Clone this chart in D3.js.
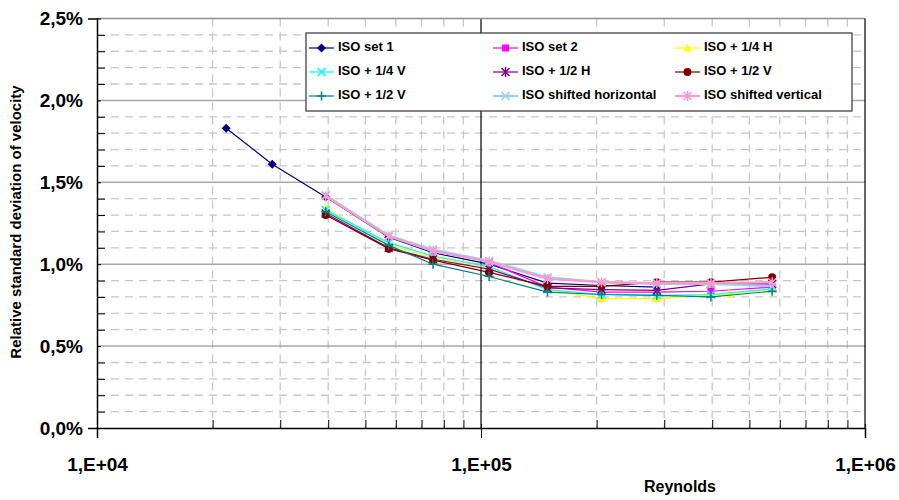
<!DOCTYPE html>
<html>
<head>
<meta charset="utf-8">
<script src="https://cdn.jsdelivr.net/npm/d3@7"></script>
<style>
  body { margin: 0; background: #fff; }
  text { font-family: "Liberation Sans", Arial, sans-serif; font-weight: bold; }
</style>
</head>
<body>
<div id="chart"></div>
<script>
// data (Reynolds, % rel. std. deviation)
var reSet1 = [21700, 28600, 39400, 57500, 75000, 105000, 149000, 206000, 287000];
var valSet1 = [1.83, 1.61, 1.41, 1.165, 1.07, 1.00, 0.885, 0.87, 0.86];

var reSet2 = [105000, 149000, 206000, 287000, 397000, 573000];
var valSet2 = [1.01, 0.86, 0.83, 0.83, 0.835, 0.86];

var reMain = [39400, 57500, 75000, 105000, 149000, 206000, 287000, 397000, 573000];
var reQuarterH = [39400, 57500, 75000, 105000, 149000, 206000, 287000, 443000, 573000];
var valQuarterH = [1.34, 1.12, 1.04, 0.98, 0.845, 0.79, 0.79, 0.82, 0.845];
var valQuarterV = [1.33, 1.13, 1.05, 0.985, 0.845, 0.815, 0.81, 0.815, 0.85];
var valHalfH = [1.31, 1.10, 1.03, 0.97, 0.855, 0.845, 0.84, 0.88, 0.88];
var valHalfV = [1.30, 1.095, 1.025, 0.95, 0.865, 0.865, 0.89, 0.89, 0.92];
var valHalfV2 = [1.32, 1.115, 1.00, 0.925, 0.83, 0.815, 0.81, 0.80, 0.835];
var valShiftH = [1.42, 1.175, 1.09, 1.02, 0.92, 0.89, 0.88, 0.88, 0.865];
var valShiftV = [1.415, 1.17, 1.08, 1.015, 0.91, 0.89, 0.885, 0.885, 0.89];

var yTicks = [0, 0.5, 1.0, 1.5, 2.0, 2.5];
var xTicks = [1e4, 1e5, 1e6];
var xTickLabels = ["1,E+04", "1,E+05", "1,E+06"];

var series = [
  {name: "ISO set 1", re: reSet1, v: valSet1, color: "#000080", mk: "diamond", w: 1.2},
  {name: "ISO set 2", re: reSet2, v: valSet2, color: "#ff00ff", mk: "square", w: 1.2},
  {name: "ISO + 1/4 H", re: reQuarterH, v: valQuarterH, color: "#ffff00", mk: "triangle", w: 1.2},
  {name: "ISO + 1/4 V", re: reMain, v: valQuarterV, color: "#00ffff", mk: "x", w: 1.2},
  {name: "ISO + 1/2 H", re: reMain, v: valHalfH, color: "#800080", mk: "star", w: 1.2},
  {name: "ISO + 1/2 V", re: reMain, v: valHalfV, color: "#800000", mk: "circle", w: 1.2},
  {name: "ISO + 1/2 V", re: reMain, v: valHalfV2, color: "#008080", mk: "plus", w: 1.2},
  {name: "ISO shifted horizontal", re: reMain, v: valShiftH, color: "#99ccff", mk: "x", w: 2.2},
  {name: "ISO shifted vertical", re: reMain, v: valShiftV, color: "#ff99cc", mk: "star", w: 2.2}
];

var W = 899, H = 500;
var plotL = 97, plotR = 865, plotT = 18.5, plotB = 428;

var svg = d3.select("#chart").append("svg")
  .attr("width", W).attr("height", H);

var x = d3.scaleLog().domain([1e4, 1e6]).range([plotL, plotR]);
var y = d3.scaleLinear().domain([0, 2.5]).range([plotB, plotT]);

// grid
var g = svg.append("g");
var minorY = d3.range(1, 25).filter(function(i){ return i % 5 != 0; }).map(function(i){ return i / 10; });
g.selectAll(".hminor").data(minorY).enter().append("line")
  .attr("x1", plotL).attr("x2", plotR)
  .attr("y1", function(d){ return y(d); }).attr("y2", function(d){ return y(d); })
  .attr("stroke", "#c8c8c8").attr("stroke-width", 1.3)
  .attr("stroke-dasharray", "8,6");

var minorX = [];
[1e4, 1e5].forEach(function(dec){
  for (var k = 2; k <= 9; k++) minorX.push(k * dec);
});
g.selectAll(".vminor").data(minorX).enter().append("line")
  .attr("y1", plotT).attr("y2", plotB)
  .attr("x1", function(d){ return x(d); }).attr("x2", function(d){ return x(d); })
  .attr("stroke", "#c8c8c8").attr("stroke-width", 1.3)
  .attr("stroke-dasharray", "8,6");

g.selectAll(".hmajor").data([0.5, 1.0, 1.5, 2.0]).enter().append("line")
  .attr("x1", plotL).attr("x2", plotR)
  .attr("y1", function(d){ return y(d); }).attr("y2", function(d){ return y(d); })
  .attr("stroke", "#a8a8a8").attr("stroke-width", 1.5);

g.append("line")
  .attr("x1", x(1e5)).attr("x2", x(1e5)).attr("y1", plotT).attr("y2", plotB)
  .attr("stroke", "#000").attr("stroke-width", 1.2);

// plot border
svg.append("line").attr("x1", plotL).attr("x2", plotR).attr("y1", plotT).attr("y2", plotT)
  .attr("stroke", "#909090").attr("stroke-width", 1.5);
svg.append("line").attr("x1", plotR).attr("x2", plotR).attr("y1", plotT).attr("y2", plotB)
  .attr("stroke", "#000").attr("stroke-width", 1.2);

// axes
var yAxis = d3.axisLeft(y).tickValues(yTicks).tickSize(9).tickPadding(5)
  .tickFormat(function(d){ return d3.format(".1f")(d).replace(".", ",") + "%"; });
var yg = svg.append("g").attr("transform", "translate(" + plotL + ",0)").call(yAxis);
var yMinor = d3.axisRight(y).tickValues(minorY).tickSize(8).tickFormat("");
svg.append("g").attr("transform", "translate(" + plotL + ",0)").call(yMinor)
  .select(".domain").remove();

var xAxis = d3.axisBottom(x).tickValues(xTicks).tickSize(10).tickPadding(20)
  .tickFormat(function(d, i){ return xTickLabels[i]; });
var xg = svg.append("g").attr("transform", "translate(0," + plotB + ")").call(xAxis);
var xMinor = d3.axisTop(x).tickValues(minorX).tickSize(8).tickFormat("");
svg.append("g").attr("transform", "translate(0," + plotB + ")").call(xMinor)
  .select(".domain").remove();

[yg, xg].forEach(function(a){
  a.selectAll("path.domain").attr("stroke", "#000").attr("stroke-width", 1.5);
  a.selectAll("text").style("font-size", "19px").attr("fill", "#000");
});
yg.selectAll(".tick line").attr("x2", 4);
xg.selectAll(".tick line").attr("y1", -4);
svg.selectAll(".tick line").attr("stroke", "#000");

svg.append("text")
  .attr("transform", "translate(17,222) rotate(-90)")
  .attr("text-anchor", "middle").attr("dominant-baseline", "middle")
  .style("font-size", "15px")
  .text("Relative standard deviation of velocity");

svg.append("text")
  .attr("x", 680).attr("y", 488)
  .attr("text-anchor", "middle").attr("dominant-baseline", "middle")
  .style("font-size", "16px")
  .text("Reynolds");

// markers
function drawMarker(sel, mk, color) {
  if (mk == "diamond") {
    sel.append("path").attr("d", "M0,-4.5L4.5,0L0,4.5L-4.5,0Z").attr("fill", color);
  } else if (mk == "square") {
    sel.append("rect").attr("x", -3.5).attr("y", -3.5).attr("width", 7).attr("height", 7).attr("fill", color);
  } else if (mk == "triangle") {
    sel.append("path").attr("d", "M0,-4.5L4.5,3.5L-4.5,3.5Z").attr("fill", color);
  } else if (mk == "circle") {
    sel.append("circle").attr("r", 4).attr("fill", color);
  } else if (mk == "x") {
    sel.append("path").attr("d", "M-4,-4L4,4M-4,4L4,-4").attr("stroke", color).attr("stroke-width", 1.5);
  } else if (mk == "star") {
    sel.append("path").attr("d", "M-4,-4L4,4M-4,4L4,-4M0,-5L0,5").attr("stroke", color).attr("stroke-width", 1.5);
  } else if (mk == "plus") {
    sel.append("path").attr("d", "M-4.5,0L4.5,0M0,-4.5L0,4.5").attr("stroke", color).attr("stroke-width", 1.5);
  }
}

var line = d3.line()
  .x(function(d){ return x(d[0]); })
  .y(function(d){ return y(d[1]); });

series.forEach(function(s){
  var pts = s.re.map(function(r, i){ return [r, s.v[i]]; });
  svg.append("path").datum(pts)
    .attr("d", line)
    .attr("fill", "none")
    .attr("stroke", s.color)
    .attr("stroke-width", s.w);
  pts.forEach(function(p){
    var m = svg.append("g").attr("transform", "translate(" + x(p[0]) + "," + y(p[1]) + ")");
    drawMarker(m, s.mk, s.color);
  });
});

// legend
var leg = svg.append("g");
leg.append("rect").attr("x", 306).attr("y", 33).attr("width", 546).attr("height", 78)
  .attr("fill", "#fff").attr("stroke", "#333").attr("stroke-width", 1.2);
var colX = [309, 493, 675];
var rowY = [48, 72, 96];
series.forEach(function(s, i){
  var cx = colX[i % 3], cy = rowY[Math.floor(i / 3)];
  leg.append("line").attr("x1", cx).attr("x2", cx + 25).attr("y1", cy).attr("y2", cy)
    .attr("stroke", s.color).attr("stroke-width", s.w);
  var m = leg.append("g").attr("transform", "translate(" + (cx + 12.5) + "," + cy + ")");
  drawMarker(m, s.mk, s.color);
  leg.append("text").attr("x", cx + 29).attr("y", cy)
    .attr("dominant-baseline", "middle")
    .style("font-size", "13px")
    .text(s.name);
});
</script>
</body>
</html>
